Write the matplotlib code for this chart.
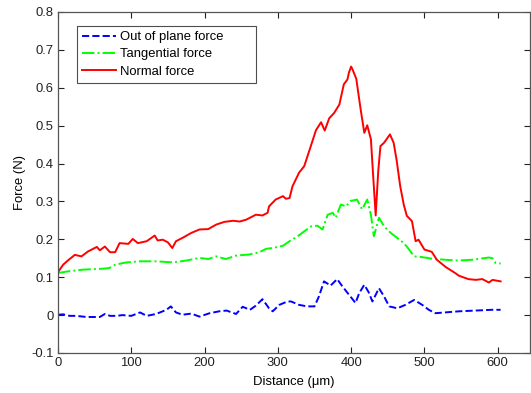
import matplotlib
matplotlib.use("Agg")
import matplotlib.pyplot as plt
from matplotlib.ticker import FuncFormatter

plt.rcParams["font.family"] = ["Liberation Sans", "DejaVu Sans"]
plt.rcParams["axes.unicode_minus"] = False

# Normal force (N) along the scratch distance (um)
normal_x = [0, 7, 14, 23, 32, 41, 53, 57, 64, 71, 78, 84, 96, 102, 109, 121, 132, 136,
            143, 150, 156, 161, 171, 182, 193, 205, 216, 227, 239, 248, 257, 270, 279,
            286, 288, 297, 307, 311, 316, 320, 329, 336, 345, 352, 359, 364, 370, 377,
            384, 390, 395, 397, 400, 402, 407, 413, 418, 422, 427, 430, 433.5, 437, 440,
            445, 453, 458, 462, 467, 472, 476, 483, 488, 492, 500, 510, 517, 529, 542,
            547, 560, 570, 579, 588, 593, 604]
normal_y = [0.113, 0.133, 0.145, 0.159, 0.155, 0.168, 0.180, 0.171, 0.181, 0.166, 0.166,
            0.190, 0.188, 0.201, 0.190, 0.195, 0.210, 0.197, 0.199, 0.192, 0.177, 0.195,
            0.205, 0.217, 0.226, 0.227, 0.239, 0.246, 0.249, 0.247, 0.252, 0.265, 0.263,
            0.270, 0.287, 0.305, 0.314, 0.307, 0.309, 0.340, 0.376, 0.393, 0.446, 0.488,
            0.509, 0.487, 0.519, 0.534, 0.556, 0.609, 0.622, 0.640, 0.656, 0.648, 0.624,
            0.543, 0.481, 0.501, 0.464, 0.370, 0.263, 0.380, 0.446, 0.455, 0.477, 0.455,
            0.410, 0.340, 0.290, 0.262, 0.248, 0.195, 0.199, 0.173, 0.167, 0.146, 0.127,
            0.111, 0.104, 0.095, 0.093, 0.095, 0.086, 0.093, 0.089]

# Tangential force (N)
tang_x = [0, 12, 34, 57, 70, 78, 93, 112, 134, 157, 175, 193, 205, 216, 229, 243, 261,
          275, 284, 293, 307, 316, 327, 345, 354, 361, 368, 375, 379, 386, 393, 399, 408,
          415, 422, 427, 431, 438, 445, 454, 470, 476, 486, 497, 510, 529, 547, 565, 588,
          593, 597, 604]
tang_y = [0.111, 0.115, 0.120, 0.122, 0.124, 0.133, 0.139, 0.142, 0.142, 0.139, 0.144,
          0.151, 0.148, 0.155, 0.148, 0.157, 0.160, 0.166, 0.175, 0.177, 0.183, 0.195,
          0.208, 0.234, 0.236, 0.226, 0.265, 0.270, 0.257, 0.292, 0.287, 0.301, 0.305,
          0.279, 0.305, 0.265, 0.208, 0.257, 0.234, 0.217, 0.193, 0.181, 0.155, 0.153,
          0.149, 0.146, 0.144, 0.146, 0.152, 0.150, 0.138, 0.136]

# Out of plane force (N)
oop_x = [0, 7, 16, 25, 39, 57, 64, 71, 80, 88, 100, 112, 121, 134, 148, 154, 161, 170,
         182, 193, 207, 220, 230, 243, 252, 262, 270, 279, 288, 293, 302, 313, 318, 329,
         340, 350, 356, 363, 372, 381, 388, 397, 406, 411, 418, 424, 429, 438, 445, 452,
         463, 474, 486, 497, 506, 515, 547, 570, 592, 604]
oop_y = [0.001, 0.002, -0.002, -0.002, -0.005, -0.005, 0.003, -0.002, -0.002, 0.0,
         -0.002, 0.007, -0.002, 0.003, 0.014, 0.023, 0.007, 0.001, 0.004, -0.004, 0.005,
         0.010, 0.012, 0.003, 0.022, 0.014, 0.025, 0.042, 0.018, 0.010, 0.027, 0.036,
         0.036, 0.027, 0.023, 0.023, 0.049, 0.089, 0.078, 0.095, 0.076, 0.054, 0.032,
         0.058, 0.080, 0.060, 0.036, 0.071, 0.049, 0.023, 0.018, 0.027, 0.040, 0.027,
         0.014, 0.005, 0.010, 0.012, 0.014, 0.014]

x_ticks = [0, 100, 200, 300, 400, 500, 600]
y_ticks = [-0.1, 0, 0.1, 0.2, 0.3, 0.4, 0.5, 0.6, 0.7, 0.8]

FS = 9.4

fig = plt.figure(figsize=(5.31, 3.93), dpi=100)
ax = fig.add_axes([0.1092, 0.1018, 0.8888, 0.8677])

ax.plot(oop_x, oop_y, color=(0, 0, 1), linestyle="--", lw=1.4, label="Out of plane force")
ax.plot(tang_x, tang_y, color=(0, 1, 0), linestyle="-.", lw=1.4, label="Tangential force")
ax.plot(normal_x, normal_y, color=(1, 0, 0), linestyle="-", lw=1.4, label="Normal force")

ax.set_xlim(0, 644)
ax.set_ylim(-0.1, 0.8)
ax.set_xticks(x_ticks)
ax.set_yticks(y_ticks)
ax.yaxis.set_major_formatter(FuncFormatter(lambda v, p: "%g" % round(v, 2)))
ax.tick_params(direction="in", top=True, right=True, length=4, width=0.8,
               labelsize=FS, colors="#222222", pad=3)
for s in ax.spines.values():
    s.set_color("#555555")
    s.set_linewidth(0.9)

ax.set_xlabel("Distance (\u03bcm)", fontsize=FS, labelpad=5)
ax.set_ylabel("Force (N)", fontsize=FS, labelpad=4)

leg = ax.legend(loc="upper left", bbox_to_anchor=(0.0403, 0.0, 0.379, 0.959),
                mode="expand", fontsize=FS, frameon=True, fancybox=False,
                edgecolor="#222222", handlelength=2.55, handletextpad=0.35,
                borderpad=0.4, labelspacing=0.38, borderaxespad=0)
leg.get_frame().set_linewidth(0.8)

fig.savefig("out.png", dpi=100)
